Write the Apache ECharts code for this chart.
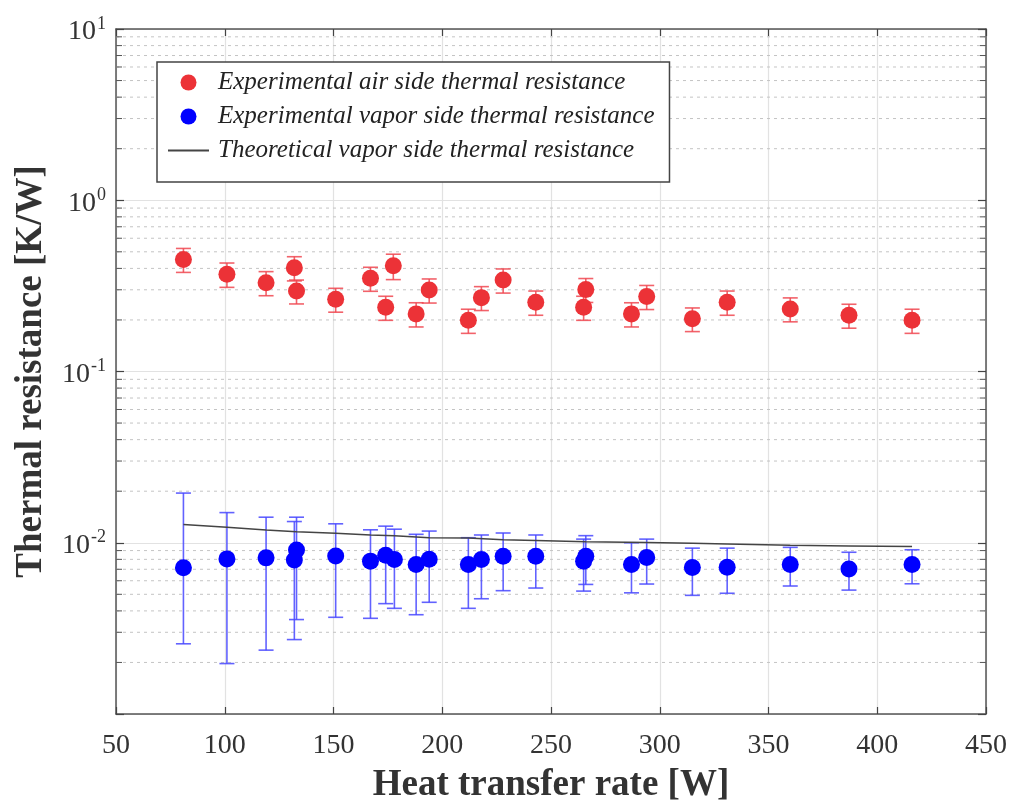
<!DOCTYPE html>
<html>
<head>
<meta charset="utf-8">
<script src="https://cdn.jsdelivr.net/npm/echarts@6/dist/echarts.min.js"></script>
<style>
html,body{margin:0;padding:0;background:#fff;}
#chart{width:1019px;height:809px;}
</style>
</head>
<body>
<div id="chart"></div>
<script>
// ---- data ----
const xTicks = [50, 100, 150, 200, 250, 300, 350, 400, 450];
const yDecades = [0.001, 0.01, 0.1, 1, 10];

const xAir = [81, 101, 119, 132, 133, 151, 167, 177.5, 174, 188, 194, 212, 218, 228, 243, 265, 266, 287, 294, 315, 331, 360, 387, 416];
const yAir = [0.451, 0.370, 0.330, 0.403, 0.295, 0.264, 0.350, 0.414, 0.237, 0.217, 0.299, 0.199, 0.270, 0.342, 0.254, 0.237, 0.301, 0.217, 0.274, 0.203, 0.254, 0.232, 0.213, 0.199];
const errAir = [0.072, 0.060, 0.053, 0.065, 0.047, 0.042, 0.056, 0.070, 0.038, 0.035, 0.048, 0.032, 0.043, 0.055, 0.041, 0.038, 0.048, 0.035, 0.044, 0.032, 0.041, 0.037, 0.034, 0.032];

const xVap = [81, 101, 119, 132, 133, 151, 167, 174, 178, 188, 194, 212, 218, 228, 243, 265, 266, 287, 294, 315, 331, 360, 387, 416];
const yVap = [0.00714, 0.00805, 0.00816, 0.00794, 0.00908, 0.00838, 0.00781, 0.00846, 0.00799, 0.00747, 0.00802, 0.00747, 0.00799, 0.00835, 0.00835, 0.00781, 0.00835, 0.00747, 0.00820, 0.00718, 0.00720, 0.00747, 0.00702, 0.00747];
const hiVap = [0.0195, 0.0150, 0.0141, 0.0133, 0.0141, 0.0129, 0.0119, 0.0125, 0.0120, 0.0112, 0.0117, 0.0107, 0.0111, 0.0114, 0.0111, 0.0105, 0.0110, 0.0100, 0.0105, 0.0093, 0.0093, 0.0094, 0.0088, 0.0091];
const loVap = [0.00257, 0.00197, 0.00236, 0.00272, 0.00356, 0.00367, 0.00362, 0.00441, 0.00414, 0.00380, 0.00449, 0.00414, 0.00471, 0.00525, 0.00544, 0.00522, 0.00571, 0.00510, 0.00574, 0.00493, 0.00507, 0.00559, 0.00529, 0.00576];

const xTheory = [81, 101, 119, 133, 151, 167, 178, 194, 212, 228, 243, 266, 294, 315, 331, 360, 387, 416];
const yTheory = [0.01276, 0.01231, 0.01187, 0.01159, 0.01136, 0.01110, 0.01098, 0.01069, 0.01065, 0.01041, 0.01030, 0.01013, 0.01003, 0.00993, 0.00984, 0.00967, 0.00958, 0.00950];

const nameAir = 'Experimental air side thermal resistance';
const nameVap = 'Experimental vapor side thermal resistance';
const nameTheory = 'Theoretical vapor side thermal resistance';

// minor log ticks (2..9 x 10^k) – axis structure, not data
const minorMult = [2, 3, 4, 5, 6, 7, 8, 9];
const minorTicks = [];
yDecades.slice(0, -1).forEach(d => minorMult.forEach(m => minorTicks.push(+(d * m).toPrecision(3))));

// ---- build ----
const airPts = xAir.map((x, i) => [x, yAir[i]]);
const airErr = xAir.map((x, i) => [x, yAir[i] - errAir[i], yAir[i] + errAir[i]]);
const vapPts = xVap.map((x, i) => [x, yVap[i]]);
const vapErr = xVap.map((x, i) => [x, loVap[i], hiVap[i]]);
const theoryPts = xTheory.map((x, i) => [x, yTheory[i]]);

function errorBarRender(color) {
  return function (params, api) {
    const x = api.value(0);
    const lo = api.coord([x, api.value(1)]);
    const hi = api.coord([x, api.value(2)]);
    const hw = 7.5;
    const style = { stroke: color, lineWidth: 1.6 };
    return {
      type: 'group',
      children: [
        { type: 'line', shape: { x1: lo[0], y1: lo[1], x2: hi[0], y2: hi[1] }, style },
        { type: 'line', shape: { x1: lo[0] - hw, y1: lo[1], x2: lo[0] + hw, y2: lo[1] }, style },
        { type: 'line', shape: { x1: hi[0] - hw, y1: hi[1], x2: hi[0] + hw, y2: hi[1] }, style }
      ]
    };
  };
}

function minorRender(params, api) {
  const v = api.value(1);
  const a = api.coord([xTicks[0], v]);
  const b = api.coord([xTicks[xTicks.length - 1], v]);
  const tick = 6;
  return {
    type: 'group',
    children: [
      { type: 'line', shape: { x1: a[0], y1: a[1], x2: b[0], y2: b[1] },
        style: { stroke: '#c4c4c4', lineWidth: 1, lineDash: [3, 4] } },
      { type: 'line', shape: { x1: a[0], y1: a[1], x2: a[0] + tick, y2: a[1] },
        style: { stroke: '#555', lineWidth: 1 } },
      { type: 'line', shape: { x1: b[0], y1: b[1], x2: b[0] - tick, y2: b[1] },
        style: { stroke: '#555', lineWidth: 1 } }
    ]
  };
}

const chart = echarts.init(document.getElementById('chart'), null, { renderer: 'canvas' });
const serif = 'Liberation Serif, Times New Roman, serif';
const axisLineStyle = { color: '#555', width: 1.5 };

chart.setOption({
  animation: false,
  backgroundColor: '#fff',
  grid: { left: 116, right: 33, top: 29, bottom: 94, show: false },
  legend: {
    data: [
      { name: nameAir },
      { name: nameVap },
      { name: nameTheory, itemStyle: { opacity: 0 } }
    ],
    orient: 'vertical',
    left: 157,
    top: 62,
    padding: [8, 15, 19, 10],
    itemGap: 9,
    itemWidth: 41,
    itemHeight: 16,
    backgroundColor: '#fff',
    borderColor: '#444',
    borderWidth: 1.5,
    textStyle: { fontFamily: serif, fontStyle: 'italic', fontSize: 25, color: '#222', padding: [0, 0, 0, 4] }
  },
  xAxis: [
    {
      type: 'value', min: 50, max: 450, interval: 50,
      axisLine: { show: true, lineStyle: axisLineStyle },
      axisTick: { show: true, inside: true, length: 7, lineStyle: { color: '#444', width: 1.2 } },
      axisLabel: { fontFamily: serif, fontSize: 28, color: '#333', margin: 18 },
      splitLine: { show: true, lineStyle: { color: '#e2e2e2', width: 1.2 } },
      name: 'Heat transfer rate [W]',
      nameLocation: 'middle',
      nameGap: 53,
      nameTextStyle: { fontFamily: serif, fontWeight: 'bold', fontSize: 37, color: '#333' }
    },
    {
      type: 'value', position: 'top', min: 50, max: 450, interval: 50,
      axisLine: { show: true, lineStyle: axisLineStyle },
      axisTick: { show: true, inside: true, length: 7, lineStyle: { color: '#444', width: 1.2 } },
      axisLabel: { show: false },
      splitLine: { show: false }
    }
  ],
  yAxis: [
    {
      type: 'log', logBase: 10, min: 0.001, max: 10,
      axisLine: { show: true, lineStyle: axisLineStyle },
      axisTick: { show: true, inside: true, length: 8, lineStyle: { color: '#444', width: 1.2 } },
      axisLabel: {
        margin: 10,
        formatter: function (v) {
          if (Math.abs(v - yDecades[0]) < 1e-9) return '';
          const e = Math.round(Math.log10(v));
          return '{b|10}{e|' + e + '}';
        },
        rich: {
          b: { fontFamily: serif, fontSize: 28, color: '#333', verticalAlign: 'bottom', padding: [6, 0, 0, 0] },
          e: { fontFamily: serif, fontSize: 18, color: '#333', verticalAlign: 'top', padding: [3, 0, 0, 1] }
        }
      },
      splitLine: { show: true, lineStyle: { color: '#e2e2e2', width: 1.2 } },
      name: 'Thermal resistance [K/W]',
      nameLocation: 'middle',
      nameGap: 66,
      nameTextStyle: { fontFamily: serif, fontWeight: 'bold', fontSize: 37, color: '#333' }
    },
    {
      type: 'log', logBase: 10, min: 0.001, max: 10, position: 'right',
      axisLine: { show: true, lineStyle: axisLineStyle },
      axisTick: { show: true, inside: true, length: 8, lineStyle: { color: '#444', width: 1.2 } },
      axisLabel: { show: false },
      splitLine: { show: false }
    }
  ],
  series: [
    {
      type: 'custom', name: 'minor', silent: true, z: 1,
      renderItem: minorRender,
      data: minorTicks.map(v => [xTicks[0], v])
    },
    {
      type: 'custom', name: 'airErr', silent: true, z: 3,
      renderItem: errorBarRender('rgba(240,70,80,0.85)'),
      encode: { x: 0, y: [1, 2] },
      data: airErr
    },
    {
      type: 'custom', name: 'vapErr', silent: true, z: 3,
      renderItem: errorBarRender('rgba(70,70,255,0.85)'),
      encode: { x: 0, y: [1, 2] },
      data: vapErr
    },
    {
      type: 'scatter', name: nameAir, z: 4,
      symbol: 'circle', symbolSize: 17,
      itemStyle: { color: '#ec3237', opacity: 1 },
      data: airPts
    },
    {
      type: 'scatter', name: nameVap, z: 4,
      symbol: 'circle', symbolSize: 17,
      itemStyle: { color: '#0000ff', opacity: 1 },
      data: vapPts
    },
    {
      type: 'line', name: nameTheory, z: 5,
      showSymbol: false, symbol: 'none',
      lineStyle: { color: '#444', width: 1.5 },
      itemStyle: { color: '#555' },
      data: theoryPts
    }
  ]
});
</script>
</body>
</html>
